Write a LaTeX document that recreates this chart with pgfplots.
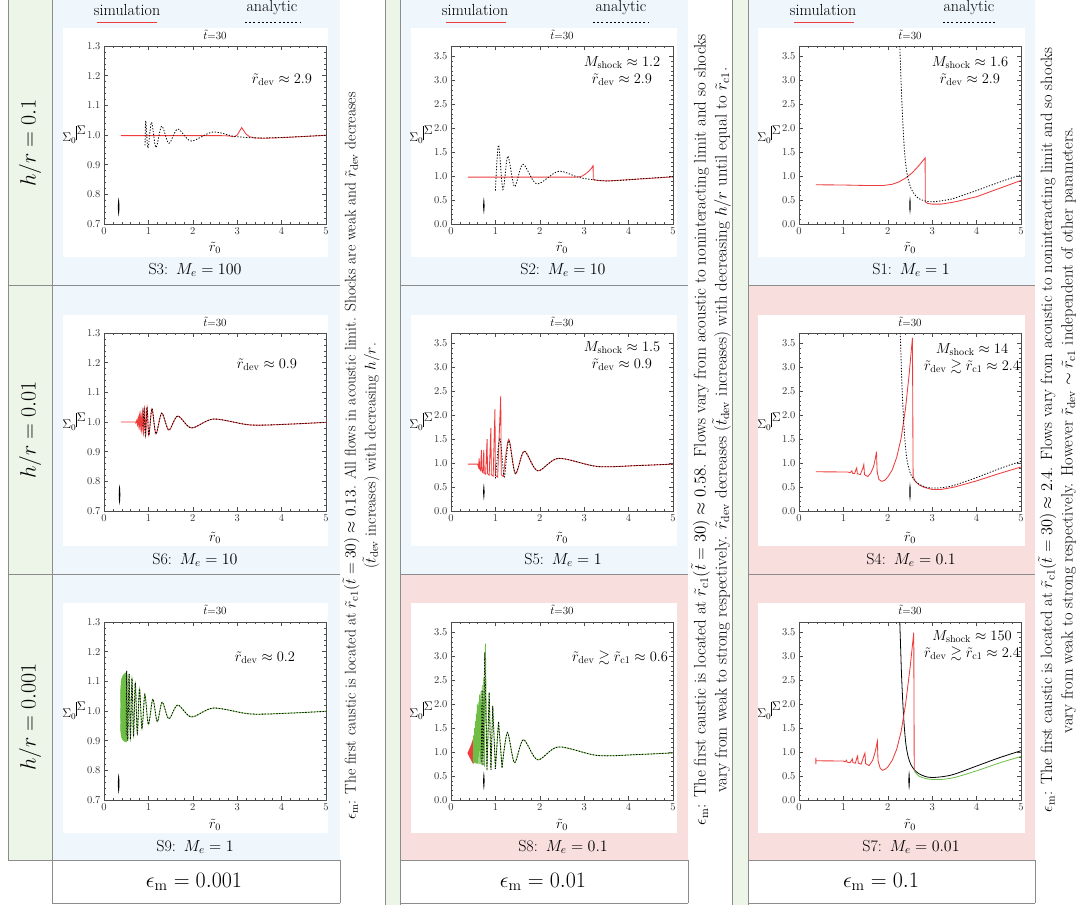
\RequirePackage{fix-cm}
\documentclass[border=0pt]{standalone}
\usepackage{amssymb}
\usepackage{pgfplots}
\pgfplotsset{compat=1.18}
\definecolor{simred}{RGB}{238,60,60}
\definecolor{simgreen}{RGB}{110,190,70}
\definecolor{bgblue}{RGB}{239,246,252}
\definecolor{bgred}{RGB}{249,222,222}
\definecolor{bggreen}{RGB}{237,245,232}
\definecolor{gridgray}{RGB}{140,140,140}
\pgfplotsset{
  base/.style={scale only axis, width=222pt, height=178pt, anchor=north west,
    xmin=0, xmax=5, xtick={0,1,2,3,4,5}, minor x tick num=4, minor y tick num=4,
    tick align=inside, axis line style={draw=black!70, line width=0.6pt},
    major tick length=4pt, minor tick length=2pt,
    tick style={black!70, line width=0.5pt},
    tick label style={font=\fontsize{10.5}{11}\selectfont, text=black!80},
    yticklabel style={/pgf/number format/fixed, /pgf/number format/fixed zerofill, /pgf/number format/precision=1},
  },
  low/.style={base, ymin=0.7, ymax=1.3, ytick={0.7,0.8,0.9,1.0,1.1,1.2,1.3}},
  high/.style={base, ymin=0, ymax=3.72, ytick={0,0.5,1,1.5,2,2.5,3,3.5}},
  sim/.style={simred, line width=0.85pt},
  ana/.style={black, line width=0.8pt, dash pattern=on 1.3pt off 1.6pt},
  grn/.style={simgreen, line width=0.8pt},
  caus/.style={fill=black, draw=none},
}
\newcommand{\ttl}[2]{\node[font=\fontsize{11}{11}\selectfont] at (#1,-#2) {$\tilde{t}$=30};}
\newcommand{\xl}[2]{\node[font=\fontsize{14}{14}\selectfont] at (#1,-#2) {$\tilde{r}_0$};}
\newcommand{\yl}[2]{\node[font=\fontsize{12.5}{12.5}\selectfont] at (#1,-#2) {$\Sigma_0\mkern-1mu\raisebox{0.3ex}{\rule{0.6pt}{2.6ex}}\mkern1mu\raisebox{1.3ex}{$\Sigma$}$};}
\newcommand{\capt}[3]{\node[font=\fontsize{16}{16}\selectfont] at (#1,-#2) {#3};}
\newcommand{\ann}[3]{\node[font=\fontsize{14.5}{17}\selectfont, align=center] at (#1,-#2) {#3};}
\newcommand{\rdev}{\tilde{r}_{\rm dev}}
\newcommand{\rcone}{\tilde{r}_{\rm c1}}
\begin{document}
\begin{tikzpicture}
\begin{scope}[x=1pt,y=1pt]
\useasboundingbox (0,0) rectangle (1080,-905);
% backgrounds
\fill[bggreen] (8,0) rectangle (52,-860);
\fill[bggreen] (385,0) rectangle (400,-905);
\fill[bggreen] (732,0) rectangle (748,-905);
\fill[bgblue] (52,0) rectangle (340,-285);
\fill[bgblue] (400,0) rectangle (688,-285);
\fill[bgblue] (748,0) rectangle (1035,-285);
\fill[bgblue] (52,-285) rectangle (340,-574);
\fill[bgblue] (400,-285) rectangle (688,-574);
\fill[bgred] (748,-285) rectangle (1035,-574);
\fill[bgblue] (52,-574) rectangle (340,-860);
\fill[bgred] (400,-574) rectangle (688,-860);
\fill[bgred] (748,-574) rectangle (1035,-860);
\foreach \xa/\xb in {63/328,411/677,758/1025}{
  \foreach \ya/\yb in {28/257,315/546,603/833}{
    \fill[white] (\xa,-\ya) rectangle (\xb,-\yb);
  }}
% grid lines
\begin{scope}[draw=gridgray, line width=0.8pt]
\draw (8,0) -- (8,-860);
\draw (52,0) -- (52,-903);
\draw (385,0) -- (385,-905); \draw (400,0) -- (400,-905);
\draw (732,0) -- (732,-905); \draw (748,0) -- (748,-905);
\foreach \y in {285,574,860}{\draw (8,-\y) -- (340,-\y); \draw (400,-\y) -- (688,-\y); \draw (748,-\y) -- (1035,-\y);}
\draw (52,-903) -- (340,-903); \draw (400,-903) -- (688,-903); \draw (748,-903) -- (1035,-903);
\draw (340,-860) -- (340,-903); \draw (688,-860) -- (688,-903); \draw (1035,-860) -- (1035,-903);
\end{scope}
% row labels
\foreach \yy/\tx in {143/0.1,430/0.01,717/0.001}{
  \node[rotate=90, font=\fontsize{22}{22}\selectfont] at (30,-\yy) {$h/r=\tx$};}
% bottom labels
\node[font=\fontsize{22}{22}\selectfont] at (194,-882) {$\epsilon_{\rm m}=0.001$};
\node[font=\fontsize{22}{22}\selectfont] at (543,-882) {$\epsilon_{\rm m}=0.01$};
\node[font=\fontsize{22}{22}\selectfont] at (881,-882) {$\epsilon_{\rm m}=0.1$};
% legends
\foreach \xs/\xa/\xb/\xn/\xc/\xd in {127/97/157/272/245/300, 475/446/506/621/593/648, 823/794/854/969/943/997}{
  \node[font=\fontsize{16}{16}\selectfont] at (\xs,-10) {simulation};
  \draw[simred, line width=0.9pt] (\xa,-22) -- (\xb,-22);
  \node[font=\fontsize{16}{16}\selectfont] at (\xn,-8) {analytic};
  \draw[black, line width=0.9pt, dash pattern=on 2pt off 2.2pt] (\xc,-22) -- (\xd,-22);
}
% rotated notes
\node[rotate=90, align=center, font=\fontsize{15.5}{20}\selectfont] at (361,-456) {$\epsilon_{\rm m}$: The first caustic is located at $\rcone(\tilde{t}=30)\approx 0.13$. All flows in acoustic limit. Shocks are weak and $\rdev$ decreases\\($\tilde{t}_{\rm dev}$ increases) with decreasing $h/r$.};
\node[rotate=90, align=center, font=\fontsize{16.8}{21}\selectfont] at (711,-430) {$\epsilon_{\rm m}$: The first caustic is located at $\rcone(\tilde{t}=30)\approx 0.58$. Flows vary from acoustic to noninteracting limit and so shocks\\vary from weak to strong respectively. $\rdev$ decreases ($\tilde{t}_{\rm dev}$ increases) with decreasing $h/r$ until equal to $\rcone$.};
\node[rotate=90, align=center, font=\fontsize{16.4}{20.5}\selectfont] at (1057,-430) {$\epsilon_{\rm m}$: The first caustic is located at $\rcone(\tilde{t}=30)\approx 2.4$. Flows vary from acoustic to noninteracting limit and so shocks\\vary from weak to strong respectively. However $\rdev\sim\rcone$ independent of other parameters.};
\end{scope}

% ---------------- S3 ----------------
\begin{axis}[low, at={(104pt,-46pt)}]
\addplot[caus] coordinates {(0.33,0.725)(0.342,0.74)(0.348,0.757)(0.342,0.775)(0.33,0.79)(0.318,0.775)(0.312,0.757)(0.318,0.74)} -- cycle;
\addplot[sim] coordinates {(0.38,0.998)(1,0.998)(2,0.998)(2.6,0.998)(2.8,0.997)(2.93,0.994)(3.0,1.0)(3.05,1.012)(3.1,1.025)(3.14,1.016)(3.2,1.003)(3.28,0.994)(3.4,0.99)(3.6,0.989)(4,0.991)(4.5,0.995)(5,0.999)};
\addplot[ana, smooth] coordinates {(0.925,0.965)(0.94,1.048)(0.99,0.956)(1.07,1.043)(1.17,0.958)(1.3,1.03)(1.46,0.972)(1.66,1.02)(1.96,0.98)(2.45,1.01)(2.95,0.995)(3.5,0.99)(4.2,0.993)(5,0.999)};
\end{axis}
% ---------------- S2 ----------------
\begin{axis}[high, at={(451pt,-46pt)}]
\addplot[caus] coordinates {(0.74,0.2)(0.752,0.3)(0.756,0.38)(0.752,0.46)(0.74,0.56)(0.728,0.46)(0.724,0.38)(0.728,0.3)} -- cycle;
\addplot[sim] coordinates {(0.38,0.98)(2.8,0.98)(2.88,0.985)(2.95,1.0)(3.02,1.04)(3.1,1.1)(3.16,1.16)(3.2,1.22)(3.205,0.93)(3.3,0.91)(3.5,0.9)(4.0,0.925)(4.5,0.955)(5.0,0.985)};
\addplot[ana, smooth] coordinates {(1.0,0.7)(1.07,1.65)(1.17,0.72)(1.28,1.42)(1.43,0.78)(1.62,1.25)(1.93,0.84)(2.42,1.1)(2.9,0.97)(3.5,0.9)(4.2,0.94)(5,0.99)};
\end{axis}
% ---------------- S1 ----------------
\begin{axis}[high, at={(799pt,-46pt)}]
\addplot[caus] coordinates {(2.5,0.2)(2.512,0.3)(2.516,0.39)(2.512,0.48)(2.5,0.58)(2.488,0.48)(2.484,0.39)(2.488,0.3)} -- cycle;
\addplot[sim] coordinates {(0.38,0.82)(1.0,0.815)(1.5,0.805)(1.9,0.805)(2.1,0.83)(2.25,0.88)(2.4,0.96)(2.55,1.07)(2.7,1.22)(2.84,1.38)(2.845,0.46)(2.9,0.43)(3.0,0.415)(3.2,0.415)(3.5,0.46)(4.0,0.57)(4.5,0.74)(5.0,0.91)};
\addplot[ana, smooth] coordinates {(2.27,3.72)(2.29,3.2)(2.31,2.7)(2.34,2.1)(2.37,1.6)(2.41,1.2)(2.46,0.93)(2.52,0.75)(2.6,0.62)(2.7,0.53)(2.85,0.48)(3.0,0.465)(3.25,0.49)(3.5,0.54)(4.0,0.7)(4.5,0.87)(5.0,1.03)};
\end{axis}
% ---------------- S6 ----------------
\begin{axis}[low, at={(104pt,-333pt)}]
\addplot[caus] coordinates {(0.35,0.72)(0.362,0.735)(0.368,0.755)(0.362,0.775)(0.35,0.79)(0.338,0.775)(0.332,0.755)(0.338,0.735)} -- cycle;
\addplot[sim, smooth] coordinates {(0.38,1.0)(0.7,1.0)(0.725,0.998)(0.74,1.006)(0.755,0.99)(0.77,1.014)(0.785,0.985)(0.80,1.022)(0.815,0.978)(0.83,1.03)(0.85,0.97)(0.87,1.038)(0.89,0.962)(0.915,1.046)(0.94,0.956)(0.97,1.05)(1.01,0.955)(1.08,1.045)(1.17,0.96)(1.3,1.03)(1.46,0.973)(1.66,1.02)(1.97,0.98)(2.47,1.01)(3.3,0.99)(4.2,0.993)(5,0.999)};
\addplot[ana, smooth] coordinates {(0.88,0.985)(0.9,1.044)(0.93,0.955)(0.97,1.05)(1.01,0.955)(1.08,1.045)(1.17,0.96)(1.3,1.03)(1.46,0.973)(1.66,1.02)(1.97,0.98)(2.47,1.01)(3.3,0.99)(4.2,0.993)(5,0.999)};
\end{axis}
% ---------------- S5 ----------------
\begin{axis}[high, at={(451pt,-333pt)}]
\addplot[caus] coordinates {(0.74,0.22)(0.752,0.32)(0.756,0.4)(0.752,0.48)(0.74,0.58)(0.728,0.48)(0.724,0.4)(0.728,0.32)} -- cycle;
\addplot[sim] coordinates {(0.38,0.98)(0.6,0.98)(0.62,0.92)(0.635,1.1)(0.645,0.88)(0.665,0.85)(0.685,1.27)(0.695,0.84)(0.72,0.8)(0.738,1.27)(0.748,0.8)(0.78,0.77)(0.813,1.5)(0.823,0.78)(0.86,0.75)(0.898,1.73)(0.908,0.76)(0.95,0.73)(0.99,2.13)(1.0,0.74)(1.05,0.71)(1.12,2.4)(1.132,0.76)(1.18,0.72)};
\addplot[sim, smooth] coordinates {(1.18,0.72)(1.3,1.5)(1.45,0.78)(1.65,1.25)(1.95,0.84)(2.42,1.1)(3.3,0.93)(4.2,0.95)(5,0.98)};
\addplot[ana, smooth] coordinates {(1.0,0.68)(1.1,1.52)(1.2,0.72)(1.3,1.47)(1.45,0.78)(1.65,1.25)(1.95,0.84)(2.42,1.1)(3.3,0.93)(4.2,0.95)(5,0.98)};
\end{axis}
% ---------------- S4 ----------------
\begin{axis}[high, at={(799pt,-333pt)}]
\addplot[caus] coordinates {(2.5,0.2)(2.512,0.3)(2.516,0.4)(2.512,0.5)(2.5,0.6)(2.488,0.5)(2.484,0.4)(2.488,0.3)} -- cycle;
\addplot[sim] coordinates {(0.38,0.82)(1.1,0.815)(1.15,0.8)(1.19,0.84)(1.205,0.79)(1.25,0.78)(1.29,0.88)(1.3,0.9)(1.315,0.78)(1.38,0.76)(1.44,0.9)(1.46,0.97)(1.475,0.76)(1.55,0.72)(1.62,0.8)(1.68,0.93)(1.72,1.1)(1.745,1.24)(1.76,0.82)(1.8,0.66)(1.86,0.62)(1.93,0.64)(2.0,0.71)(2.1,0.86)(2.2,1.12)(2.3,1.52)(2.4,2.15)(2.48,2.85)(2.555,3.62)(2.57,0.72)(2.62,0.62)(2.7,0.55)(2.8,0.5)(3.0,0.45)(3.2,0.45)(3.5,0.5)(4.0,0.63)(4.5,0.78)(5,0.92)};
\addplot[ana, smooth] coordinates {(2.28,3.72)(2.3,3.15)(2.32,2.6)(2.35,2.0)(2.38,1.55)(2.42,1.15)(2.47,0.9)(2.53,0.74)(2.6,0.64)(2.7,0.56)(2.85,0.5)(3.0,0.48)(3.25,0.49)(3.5,0.54)(4.0,0.7)(4.5,0.88)(5.0,1.04)};
\end{axis}
% ---------------- S9 ----------------
\begin{axis}[low, at={(104pt,-622pt)}]
\addplot[caus] coordinates {(0.33,0.72)(0.342,0.735)(0.348,0.755)(0.342,0.775)(0.33,0.79)(0.318,0.775)(0.312,0.755)(0.318,0.735)} -- cycle;
\addplot[fill=simgreen, draw=simgreen] coordinates {(0.37,0.98)(0.375,1.07)(0.39,1.105)(0.42,1.118)(0.46,1.125)(0.5,1.13)(0.52,1.12)(0.52,0.9)(0.5,0.895)(0.46,0.898)(0.42,0.903)(0.39,0.913)(0.375,0.935)} -- cycle;
\addplot[grn, smooth] coordinates {(0.5,0.92)(0.51,1.135)(0.535,0.9)(0.565,1.125)(0.595,0.905)(0.63,1.11)(0.665,0.915)(0.705,1.095)(0.75,0.925)(0.8,1.075)(0.855,0.94)(0.92,1.055)(1.0,0.955)(1.1,1.04)(1.2,0.964)(1.31,1.03)(1.46,0.974)(1.66,1.02)(1.97,0.98)(2.47,1.01)(3.3,0.99)(4.2,0.993)(5,0.999)};
\addplot[ana, smooth] coordinates {(0.5,0.92)(0.51,1.135)(0.535,0.9)(0.565,1.125)(0.595,0.905)(0.63,1.11)(0.665,0.915)(0.705,1.095)(0.75,0.925)(0.8,1.075)(0.855,0.94)(0.92,1.055)(1.0,0.955)(1.1,1.04)(1.2,0.964)(1.31,1.03)(1.46,0.974)(1.66,1.02)(1.97,0.98)(2.47,1.01)(3.3,0.99)(4.2,0.993)(5,0.999)};
\end{axis}
% ---------------- S8 ----------------
\begin{axis}[high, at={(451pt,-622pt)}]
\addplot[caus] coordinates {(0.74,0.2)(0.752,0.3)(0.756,0.4)(0.752,0.5)(0.74,0.6)(0.728,0.5)(0.724,0.4)(0.728,0.3)} -- cycle;
\addplot[fill=simred, draw=simred] coordinates {(0.38,0.99)(0.42,1.07)(0.46,1.16)(0.5,1.27)(0.52,1.2)(0.52,0.8)(0.5,0.76)(0.46,0.83)(0.42,0.9)(0.38,0.97)} -- cycle;
\addplot[grn] coordinates {(0.5,0.78)(0.51,1.35)(0.52,0.78)(0.53,1.5)(0.54,0.77)(0.55,1.65)(0.56,0.77)(0.57,1.8)(0.58,0.76)(0.59,2.0)(0.6,0.76)(0.615,2.05)(0.63,0.75)(0.645,2.2)(0.66,0.75)(0.675,2.27)(0.69,0.74)(0.705,2.4)(0.72,0.73)(0.74,2.55)(0.755,0.7)(0.775,3.27)(0.81,0.62)(0.86,2.25)(0.9,0.63)(0.94,1.97)(1.0,0.65)(1.07,1.64)(1.15,0.68)};
\addplot[grn, smooth] coordinates {(1.15,0.68)(1.27,1.41)(1.43,0.78)(1.63,1.26)(1.95,0.84)(2.42,1.11)(3.3,0.93)(4.2,0.95)(5,0.985)};
\addplot[ana] coordinates {(0.68,0.8)(0.7,2.3)(0.72,0.72)(0.76,3.09)(0.81,0.62)(0.86,2.25)(0.9,0.63)(0.94,1.97)(1.0,0.65)(1.07,1.64)(1.15,0.68)};
\addplot[ana, smooth] coordinates {(1.15,0.68)(1.27,1.41)(1.43,0.78)(1.63,1.26)(1.95,0.84)(2.42,1.11)(3.3,0.93)(4.2,0.95)(5,0.985)};
\end{axis}
% ---------------- S7 ----------------
\begin{axis}[high, at={(799pt,-622pt)}]
\addplot[caus] coordinates {(2.48,0.2)(2.492,0.3)(2.496,0.41)(2.492,0.52)(2.48,0.62)(2.468,0.52)(2.464,0.41)(2.468,0.3)} -- cycle;
\addplot[grn, smooth] coordinates {(2.6,0.6)(2.7,0.5)(2.85,0.45)(3.0,0.43)(3.2,0.43)(3.5,0.47)(4.0,0.61)(4.5,0.77)(5.0,0.91)};
\addplot[black, line width=0.8pt, smooth] coordinates {(2.27,3.72)(2.29,3.15)(2.31,2.6)(2.34,2.0)(2.37,1.55)(2.41,1.15)(2.46,0.9)(2.52,0.74)(2.6,0.63)(2.7,0.55)(2.85,0.49)(3.0,0.47)(3.25,0.49)(3.5,0.54)(4.0,0.71)(4.5,0.88)(5.0,1.03)};
\addplot[sim] coordinates {(0.38,0.75)(0.38,0.88)(0.38,0.82)(1.0,0.815)(1.04,0.8)(1.07,0.83)(1.085,0.79)(1.15,0.78)(1.19,0.84)(1.2,0.86)(1.215,0.78)(1.27,0.77)(1.31,0.9)(1.32,0.92)(1.335,0.77)(1.4,0.75)(1.47,0.95)(1.485,0.98)(1.5,0.76)(1.58,0.72)(1.66,0.83)(1.72,1.02)(1.765,1.23)(1.78,0.82)(1.83,0.66)(1.88,0.62)(1.95,0.65)(2.0,0.69)(2.1,0.83)(2.2,1.06)(2.3,1.43)(2.4,2.0)(2.5,2.75)(2.585,3.5)(2.595,0.62)};
\end{axis}

\begin{scope}[x=1pt,y=1pt]
\foreach \cx/\lx in {215/74,562/421,910/769}{
  \foreach \ty/\xy/\my in {35/248/135, 322/538/422, 610/825/711}{
    \ttl{\cx}{\ty}
    \xl{\cx}{\xy}
    \yl{\lx}{\my}
  }}
\capt{195}{270}{S3:\enspace$M_e=100$}
\capt{563}{270}{S2:\enspace$M_e=10$}
\capt{911}{270}{S1:\enspace$M_e=1$}
\capt{195}{560}{S6:\enspace$M_e=10$}
\capt{563}{560}{S5:\enspace$M_e=1$}
\capt{911}{560}{S4:\enspace$M_e=0.1$}
\capt{195}{847}{S9:\enspace$M_e=1$}
\capt{563}{847}{S8:\enspace$M_e=0.1$}
\capt{911}{847}{S7:\enspace$M_e=0.01$}
\ann{282}{80}{$\rdev\approx 2.9$}
\ann{622}{71}{$M_{\rm shock}\approx 1.2$\\$\rdev\approx 2.9$}
\ann{970}{71}{$M_{\rm shock}\approx 1.6$\\$\rdev\approx 2.9$}
\ann{267}{365}{$\rdev\approx 0.9$}
\ann{622}{356}{$M_{\rm shock}\approx 1.5$\\$\rdev\approx 0.9$}
\ann{972}{359}{$M_{\rm shock}\approx 14$\\$\rdev\gtrsim\rcone\approx 2.4$}
\ann{265}{658}{$\rdev\approx 0.2$}
\ann{620}{658}{$\rdev\gtrsim\rcone\approx 0.6$}
\ann{972}{646}{$M_{\rm shock}\approx 150$\\$\rdev\gtrsim\rcone\approx 2.4$}
\end{scope}
\end{tikzpicture}
\end{document}
